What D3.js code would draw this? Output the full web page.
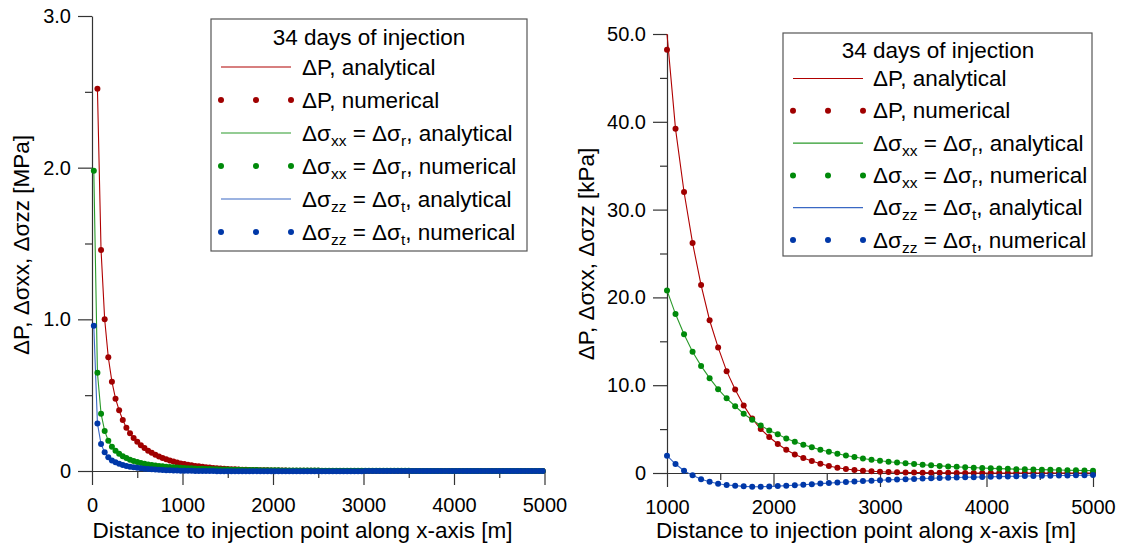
<!DOCTYPE html>
<html><head><meta charset="utf-8">
<script src="https://cdn.jsdelivr.net/npm/d3@7"></script>
<style>
body{margin:0;background:#fff;}
svg text{font-family:"Liberation Sans",Arial,Helvetica,sans-serif;white-space:pre;}
</style></head><body>
<svg id="c" width="1141" height="546"></svg>
<script>
// ---------------- DATA ----------------
// Left panel: distance grid (m) 20..4980 every 40 m, values in MPa
const xLeft = d3.range(125).map(i => 20 + 40 * i);
const pLeft = [
  null, 2.52, 1.457, 1.0, 0.75, 0.589, 0.477, 0.40, 0.336, 0.285,
  0.249, 0.218, 0.193, 0.170, 0.151, 0.134, 0.120, 0.107, 0.096, 0.086,
  0.077, 0.069, 0.062, 0.056, 0.050, 0.0458, 0.0413, 0.0373, 0.0336, 0.0305,
  0.0276, 0.0249, 0.0225, 0.0203, 0.0183, 0.0166, 0.0150, 0.0136, 0.0122, 0.0110,
  0.0099, 0.0090, 0.0081, 0.0073, 0.0066, 0.0059, 0.0053, 0.0048, 0.0043, 0.0039,
  0.0035, 0.0031, 0.0028, 0.0025, 0.0022, 0.0020, 0.0018, 0.0016, 0.0014, 0.0013,
  0.0011, 0.0010, 0.0009, 0.0008, 0.0007, 0.0006, 0.0005, 0.0004, 0.0004, 0.0003,
  0.0003, 0.0002, 0.0002, 0.0002, 0.0002, 0.0001, 0.0001, 0.0001, 0.0001, 0.0001,
  0.0001, 0.0001, 0.0001, 0.0001, 0.0001, 0, 0, 0, 0, 0,
  0, 0, 0, 0, 0, 0, 0, 0, 0, 0,
  0, 0, 0, 0, 0, 0, 0, 0, 0, 0,
  0, 0, 0, 0, 0, 0, 0, 0, 0, 0,
  0, 0, 0, 0, 0
];
const sxxLeft = [
  1.98, 0.648, 0.378, 0.264, 0.200, 0.160, 0.1335, 0.1133, 0.0975, 0.0849,
  0.0747, 0.0662, 0.0591, 0.0531, 0.0480, 0.0436, 0.0397, 0.0364, 0.0334, 0.0308,
  0.0285, 0.0265, 0.0246, 0.0229, 0.0214, 0.0201, 0.0188, 0.0175, 0.0164, 0.0153,
  0.0143, 0.0134, 0.0126, 0.01185, 0.01115, 0.0105, 0.00985, 0.0093, 0.00875, 0.00828,
  0.00782, 0.00739, 0.00696, 0.00658, 0.00623, 0.0059, 0.00558, 0.00528, 0.00499, 0.00474,
  0.00451, 0.00429, 0.00406, 0.00385, 0.00366, 0.00348, 0.00331, 0.00315, 0.0030, 0.00285,
  0.00272, 0.00259, 0.00248, 0.00237, 0.00226, 0.00215, 0.00205, 0.00196, 0.00187, 0.00178,
  0.0017, 0.00162, 0.00155, 0.00148, 0.00143, 0.00137, 0.00132, 0.00127, 0.00121, 0.00117,
  0.00112, 0.00108, 0.00104, 0.0010, 0.00096, 0.00092, 0.00089, 0.00086, 0.00082, 0.0008,
  0.00077, 0.00074, 0.00071, 0.00069, 0.00066, 0.00064, 0.00062, 0.0006, 0.00058, 0.00056,
  0.00054, 0.00052, 0.00051, 0.00049, 0.00048, 0.00046, 0.00045, 0.000435, 0.000425, 0.000415,
  0.000405, 0.000395, 0.000385, 0.000375, 0.000365, 0.000355, 0.000345, 0.000335, 0.000325, 0.000315,
  0.000305, 0.000298, 0.000292, 0.000285, 0.000275
];
const szzLeft = [
  0.958, 0.314, 0.178, 0.123, 0.090, 0.070, 0.0574, 0.0476, 0.0400, 0.0335,
  0.0284, 0.0242, 0.0207, 0.0178, 0.0154, 0.0131, 0.0111, 0.0095, 0.0080, 0.0068,
  0.0057, 0.0046, 0.0037, 0.0030, 0.0024, 0.00173, 0.00126, 0.00083, 0.00045, 0.00012,
  -0.00014, -0.00038, -0.00061, -0.00079, -0.00092, -0.00105, -0.00116, -0.00126, -0.00133, -0.00139,
  -0.00142, -0.00146, -0.0015, -0.00153, -0.00155, -0.00156, -0.00156, -0.00155, -0.00154, -0.00152,
  -0.0015, -0.00148, -0.00145, -0.00143, -0.0014, -0.00137, -0.00134, -0.00131, -0.00128, -0.00125,
  -0.00122, -0.00119, -0.00116, -0.00113, -0.0011, -0.00107, -0.00104, -0.00101, -0.00098, -0.00096,
  -0.00093, -0.00091, -0.00088, -0.00086, -0.00083, -0.00081, -0.00079, -0.00077, -0.00075, -0.00073,
  -0.00071, -0.00069, -0.00068, -0.00066, -0.00064, -0.00062, -0.00061, -0.00059, -0.00058, -0.00056,
  -0.00055, -0.00053, -0.00052, -0.00051, -0.0005, -0.00048, -0.00047, -0.00046, -0.00045, -0.00044,
  -0.00043, -0.00042, -0.00041, -0.0004, -0.00039, -0.00038, -0.00037, -0.00036, -0.000355, -0.000345,
  -0.00034, -0.00033, -0.00032, -0.000315, -0.000305, -0.0003, -0.00029, -0.000285, -0.00028, -0.000275,
  -0.00027, -0.00026, -0.000255, -0.00025, -0.00024
];

// Right panel: distance grid (m) 1000..5000 every 80 m, values in kPa
const xRight = d3.range(51).map(i => 1000 + 80 * i);
const pRight = [
  48.2, 39.2, 32.0, 26.2, 21.4, 17.4, 14.3, 11.6, 9.5, 7.7,
  6.2, 5.0, 4.1, 3.3, 2.65, 2.1, 1.7, 1.36, 1.06, 0.80,
  0.60, 0.46, 0.35, 0.26, 0.20, 0.15, 0.11, 0.085, 0.065, 0.05,
  0.038, 0.03, 0.023, 0.018, 0.014, 0.011, 0.008, 0.006, 0.005, 0.004,
  0.003, 0.002, 0.002, 0.001, 0.001, 0, 0, 0, 0, 0,
  0
];
const pRightAnalyticalStart = 50.0; // analytical curve value at 1000 m
const sxxRight = [
  20.8, 18.1, 15.8, 13.8, 12.2, 10.8, 9.55, 8.5, 7.6, 6.75,
  6.06, 5.42, 4.85, 4.4, 3.94, 3.56, 3.22, 2.92, 2.65, 2.42,
  2.2, 2.0, 1.82, 1.66, 1.51, 1.40, 1.29, 1.19, 1.10, 1.02,
  0.94, 0.87, 0.81, 0.75, 0.70, 0.65, 0.61, 0.57, 0.53, 0.50,
  0.47, 0.44, 0.42, 0.40, 0.38, 0.36, 0.34, 0.32, 0.30, 0.29,
  0.27
];
const szzRight = [
  1.97, 1.02, 0.26, -0.27, -0.72, -0.99, -1.22, -1.37, -1.44, -1.52,
  -1.56, -1.56, -1.53, -1.49, -1.44, -1.39, -1.33, -1.27, -1.21, -1.15,
  -1.09, -1.03, -0.97, -0.92, -0.87, -0.82, -0.78, -0.74, -0.70, -0.67,
  -0.63, -0.60, -0.57, -0.54, -0.52, -0.49, -0.47, -0.45, -0.43, -0.41,
  -0.39, -0.37, -0.35, -0.34, -0.32, -0.31, -0.29, -0.28, -0.27, -0.25,
  -0.24
];

// Ticks
const leftXMajor = [0, 1000, 2000, 3000, 4000, 5000];
const leftXMinor = [500, 1500, 2500, 3500, 4500];
const leftYMajor = [0, 1, 2, 3];
const leftYMinor = [0.5, 1.5, 2.5];
const rightXMajor = [1000, 2000, 3000, 4000, 5000];
const rightXMinor = [1500, 2500, 3500, 4500];
const rightYMajor = [0, 10, 20, 30, 40, 50];
const rightYMinor = [5, 15, 25, 35, 45];

// Texts
const legendTitle = "34 days of injection";
const legendLabels = [
  [["ΔP, analytical"]],
  [["ΔP, numerical"]],
  [["Δσ"], ["xx", 1], [" = Δσ"], ["r", 1], [", analytical"]],
  [["Δσ"], ["xx", 1], [" = Δσ"], ["r", 1], [", numerical"]],
  [["Δσ"], ["zz", 1], [" = Δσ"], ["t", 1], [", analytical"]],
  [["Δσ"], ["zz", 1], [" = Δσ"], ["t", 1], [", numerical"]]
];
const xTitle = "Distance to injection point along x-axis [m]";
const yTitleLeft = "ΔP, Δσxx, Δσzz [MPa]";
const yTitleRight = "ΔP, Δσxx, Δσzz [kPa]";

// ---------------- STYLE ----------------
const COL = {
  pDot: "#a00000", pLine: "#b00000",
  xxDot: "#008a0a", xxLine: "#2a9a2a",
  zzDot: "#0038a8", zzLine: "#3a68c4"
};
const AXIS_COL = "#333";
const TICK_FS = 20, TITLE_FS = 22.5, LEG_FS = 22.5, SUB_FS = 15.5;

const svg = d3.select("#c");
svg.append("rect").attr("width", 1141).attr("height", 546).attr("fill", "#fff");

function styleAxis(sel) {
  sel.attr("font-size", TICK_FS).attr("font-family", null);
  sel.selectAll(".domain").attr("stroke", AXIS_COL).attr("stroke-width", 1.2);
  sel.selectAll(".tick line").attr("stroke", AXIS_COL).attr("stroke-width", 1.2);
  sel.selectAll(".tick text").attr("fill", "#000");
}

function drawPanel(cfg) {
  const g = svg.append("g");
  const x = d3.scaleLinear().domain(cfg.xDomain).range(cfg.xRange);
  const y = d3.scaleLinear().domain(cfg.yDomain).range(cfg.yRange);
  const y0 = y(0), x0 = x(cfg.xDomain[0]);

  // X axis
  g.append("g").attr("transform", `translate(0,${y0})`)
    .call(d3.axisBottom(x).tickValues(cfg.xMajor).tickSize(14).tickSizeOuter(0)
      .tickPadding(13).tickFormat(d3.format("d")))
    .call(styleAxis);
  g.append("g").attr("transform", `translate(0,${y0})`)
    .call(d3.axisBottom(x).tickValues(cfg.xMinor).tickSize(7).tickSizeOuter(0).tickFormat(""))
    .call(styleAxis).call(a => a.select(".domain").remove());
  // Y axis
  g.append("g").attr("transform", `translate(${x0},0)`)
    .call(d3.axisLeft(y).tickValues(cfg.yMajor).tickSize(14).tickSizeOuter(0)
      .tickPadding(7).tickFormat(d => d === 0 ? "0" : d.toFixed(1)))
    .call(styleAxis);
  g.append("g").attr("transform", `translate(${x0},0)`)
    .call(d3.axisLeft(y).tickValues(cfg.yMinor).tickSize(7).tickSizeOuter(0).tickFormat(""))
    .call(styleAxis).call(a => a.select(".domain").remove());

  // Titles
  g.append("text").attr("x", cfg.xTitleX).attr("y", 538).attr("text-anchor", "middle")
    .attr("font-size", TITLE_FS).text(xTitle);
  g.append("text").attr("transform", `translate(${cfg.yTitleX},${cfg.yTitleY}) rotate(-90)`)
    .attr("text-anchor", "middle").attr("dy", "0.35em")
    .attr("font-size", TITLE_FS).text(cfg.yTitle);

  // Series
  const line = d3.line().defined(d => d[1] !== null && d[1] !== undefined)
    .x(d => x(d[0])).y(d => y(d[1]));
  cfg.series.forEach(s => {
    const pts = s.xs.map((xv, i) => [xv, s.vals[i]]);
    const linePts = s.lineVals ? s.xs.map((xv, i) => [xv, s.lineVals[i]]) : pts;
    g.append("path").datum(linePts).attr("d", line)
      .attr("fill", "none").attr("stroke", s.lineCol).attr("stroke-width", 1.1);
  });
  cfg.series.forEach(s => {
    const pts = s.xs.map((xv, i) => [xv, s.vals[i]]).filter(d => d[1] !== null);
    g.append("g").selectAll("circle").data(pts).join("circle")
      .attr("cx", d => x(d[0])).attr("cy", d => y(d[1])).attr("r", 3)
      .attr("fill", s.dotCol);
  });

  // Legend
  const L = cfg.legend;
  const lg = svg.append("g");
  lg.append("rect").attr("x", L.x0).attr("y", L.y0).attr("width", L.x1 - L.x0)
    .attr("height", L.y1 - L.y0).attr("fill", "#fff").attr("stroke", "#555").attr("stroke-width", 1.2);
  lg.append("text").attr("x", L.titleX).attr("y", L.titleY).attr("text-anchor", "middle")
    .attr("font-size", LEG_FS).text(legendTitle);
  const kinds = [
    ["line", COL.pLine], ["dot", COL.pDot],
    ["line", COL.xxLine], ["dot", COL.xxDot],
    ["line", COL.zzLine], ["dot", COL.zzDot]
  ];
  legendLabels.forEach((parts, i) => {
    const cy = L.rowY0 + i * L.rowStep;
    const [kind, col] = kinds[i];
    if (kind === "line") {
      lg.append("line").attr("x1", L.symX0).attr("x2", L.symX1).attr("y1", cy).attr("y2", cy)
        .attr("stroke", col).attr("stroke-width", 1.2);
    } else {
      [0, 0.5, 1].forEach(f => lg.append("circle")
        .attr("cx", L.symX0 + f * (L.symX1 - L.symX0)).attr("cy", cy).attr("r", 3).attr("fill", col));
    }
    const t = lg.append("text").attr("x", L.textX).attr("y", cy + 7.5).attr("font-size", LEG_FS);
    let shifted = false;
    parts.forEach(([txt, sub]) => {
      const ts = t.append("tspan").text(txt);
      if (sub) { ts.attr("font-size", SUB_FS).attr("dy", 5); shifted = true; }
      else if (shifted) { ts.attr("dy", -5); shifted = false; }
    });
  });
}

drawPanel({
  xDomain: [0, 5000], xRange: [92, 544.5],
  yDomain: [0, 3], yRange: [471, 16],
  xMajor: leftXMajor, xMinor: leftXMinor, yMajor: leftYMajor, yMinor: leftYMinor,
  xTitleX: 302.5, yTitleX: 21, yTitleY: 245, yTitle: yTitleLeft,
  series: [
    { xs: xLeft, vals: pLeft, dotCol: COL.pDot, lineCol: COL.pLine },
    { xs: xLeft, vals: sxxLeft, dotCol: COL.xxDot, lineCol: COL.xxLine },
    { xs: xLeft, vals: szzLeft, dotCol: COL.zzDot, lineCol: COL.zzLine }
  ],
  legend: { x0: 211, x1: 527, y0: 19, y1: 251, titleX: 369, titleY: 45,
    rowY0: 67, rowStep: 33, symX0: 221, symX1: 291, textX: 302 }
});

drawPanel({
  xDomain: [1000, 5000], xRange: [667, 1093],
  yDomain: [0, 50], yRange: [473, 34],
  xMajor: rightXMajor, xMinor: rightXMinor, yMajor: rightYMajor, yMinor: rightYMinor,
  xTitleX: 866, yTitleX: 586, yTitleY: 254, yTitle: yTitleRight,
  series: [
    { xs: xRight, vals: pRight, lineVals: [pRightAnalyticalStart].concat(pRight.slice(1)),
      dotCol: COL.pDot, lineCol: COL.pLine },
    { xs: xRight, vals: sxxRight, dotCol: COL.xxDot, lineCol: COL.xxLine },
    { xs: xRight, vals: szzRight, dotCol: COL.zzDot, lineCol: COL.zzLine }
  ],
  legend: { x0: 783, x1: 1092, y0: 33, y1: 256, titleX: 938, titleY: 58,
    rowY0: 78.5, rowStep: 32.3, symX0: 793, symX1: 863, textX: 873 }
});
</script>
</body></html>
